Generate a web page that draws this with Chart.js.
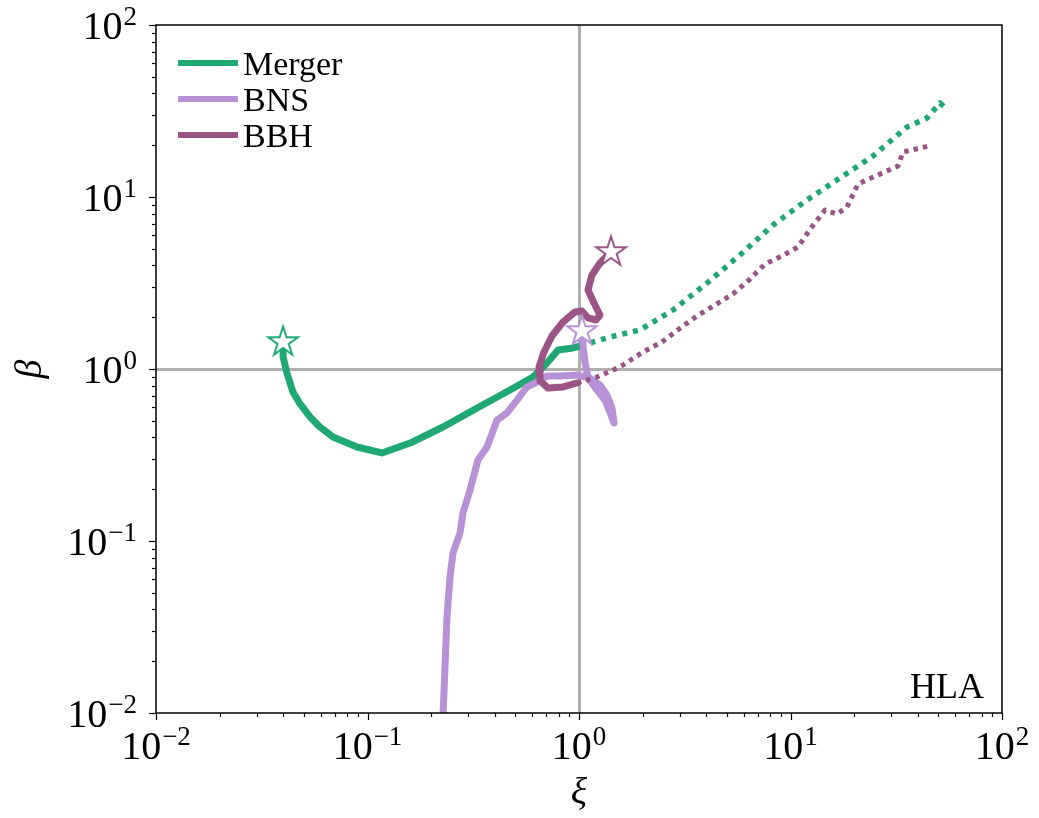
<!DOCTYPE html>
<html><head><meta charset="utf-8">
<script src="https://cdn.jsdelivr.net/npm/chart.js@4/dist/chart.umd.min.js"></script>
<style>html,body{margin:0;padding:0;background:#fff}canvas{display:block}</style>
</head><body>
<canvas id="c" width="1039" height="818"></canvas>
<script>
// ---- tick values / labels ----
const xiTicks = [0.01, 0.1, 1, 10, 100];
const betaTicks = [0.01, 0.1, 1, 10, 100];
const tickBase = '10';
const tickExponents = ['\u22122', '\u22121', '0', '1', '2'];
const seriesNames = ['Merger', 'BNS', 'BBH'];
const panelLabel = 'HLA';
const xTitle = 'ξ';
const yTitle = 'β';

// ---- Merger (solid part, star at first point) ----
const mergerXi   = [0.0399, 0.0399, 0.0416, 0.0444, 0.048, 0.0535, 0.0596, 0.0687, 0.0892, 0.117, 0.159, 0.2275, 0.330, 0.472, 0.606, 0.706, 0.796, 0.937, 1.01];
const mergerBeta = [1.435, 1.174, 0.948, 0.735, 0.626, 0.526, 0.460, 0.402, 0.352, 0.325, 0.371, 0.460, 0.593, 0.755, 0.898, 1.083, 1.290, 1.325, 1.36];
// Merger (dotted continuation)
const mergerExtXi   = [1.01, 1.402, 1.943, 2.783, 4.03, 5.77, 8.27, 11.97, 17.14, 24.55, 35.55, 44.2, 50.9, 55.6];
const mergerExtBeta = [1.36, 1.535, 1.686, 2.203, 3.162, 4.60, 6.88, 9.61, 12.90, 17.31, 25.53, 28.8, 35.2, 32.0];

// ---- BNS (solid, star at last point) ----
const bnsXi   = [0.2275, 0.2325, 0.2376, 0.2455, 0.2537, 0.2738, 0.2828, 0.3052, 0.333, 0.3673, 0.4096, 0.4566, 0.509, 0.5676, 0.633, 0.706, 0.813, 0.978, 1.127, 1.257, 1.356, 1.432, 1.464, 1.417, 1.327, 1.216, 1.103, 1.067, 1.044, 1.033];
const bnsBeta = [0.0095, 0.0185, 0.0361, 0.0618, 0.0852, 0.1113, 0.1455, 0.198, 0.2958, 0.352, 0.505, 0.555, 0.660, 0.786, 0.840, 0.911, 0.911, 0.923, 0.886, 0.807, 0.706, 0.593, 0.485, 0.540, 0.660, 0.755, 0.886, 1.098, 1.379, 1.663];

// ---- BBH (solid, star at first point) ----
const bbhXi   = [1.417, 1.257, 1.152, 1.103, 1.177, 1.257, 1.203, 1.103, 1.033, 0.957, 0.840, 0.745, 0.683, 0.647, 0.654, 0.714, 0.840, 0.978];
const bbhBeta = [4.79, 4.13, 3.52, 2.88, 2.42, 2.06, 1.927, 1.980, 2.174, 2.145, 1.876, 1.555, 1.256, 1.027, 0.852, 0.775, 0.786, 0.829];
// BBH (dotted continuation)
const bbhExtXi   = [0.978, 1.216, 1.563, 2.007, 2.469, 2.971, 3.614, 4.395, 5.35, 6.366, 7.575, 9.12, 10.85, 12.50, 14.56, 16.59, 18.50, 20.85, 25.93, 32.23, 34.04, 39.20, 45.18];
const bbhExtBeta = [0.829, 0.898, 1.027, 1.256, 1.435, 1.708, 2.033, 2.356, 2.73, 3.291, 4.078, 4.54, 5.12, 6.60, 8.40, 7.96, 8.75, 11.90, 13.43, 15.14, 18.26, 19.02, 19.79];

// ---- styles ----
const GREEN = '#1fa774';
const LAV = '#b892d6';
const MAUVE = '#9b5585';
const FONT = "'Liberation Serif','Times New Roman',serif";

const zip = (xs, ys) => xs.map((v, i) => ({x: v, y: ys[i]}));

function starCanvas(color) {
  const s = 40, c = document.createElement('canvas');
  c.width = s; c.height = s;
  const g = c.getContext('2d');
  const R = 15.5, r = R * 0.381966, cx = s / 2, cy = s / 2;
  g.beginPath();
  for (let i = 0; i < 10; i++) {
    const rad = i % 2 === 0 ? R : r;
    const a = -Math.PI / 2 + i * Math.PI / 5;
    const px = cx + rad * Math.cos(a), py = cy + rad * Math.sin(a);
    i === 0 ? g.moveTo(px, py) : g.lineTo(px, py);
  }
  g.closePath();
  g.fillStyle = '#fff'; g.fill();
  g.lineWidth = 2; g.strokeStyle = color; g.lineJoin = 'miter'; g.stroke();
  return c;
}

const solid = (label, data, color, order) => ({
  label, data, borderColor: color, backgroundColor: color, borderWidth: 7,
  showLine: true, pointRadius: 0, borderJoinStyle: 'round', borderCapStyle: 'round', order
});
const dotted = (label, data, color, order, w, dash) => ({
  label, data, borderColor: color, backgroundColor: color, borderWidth: w,
  showLine: true, pointRadius: 0, borderDash: dash, borderCapStyle: 'butt', borderJoinStyle: 'round', order
});
const star = (label, pt, color, order) => ({
  label, data: [pt], showLine: false, pointStyle: starCanvas(color), pointRadius: 16, order
});

const datasets = [
  solid(seriesNames[0], zip(mergerXi, mergerBeta), GREEN, 7),
  dotted(seriesNames[0] + ' ext', zip(mergerExtXi, mergerExtBeta), GREEN, 6, 5.5, [5, 6]),
  solid(seriesNames[1], zip(bnsXi, bnsBeta), LAV, 5),
  dotted(seriesNames[2] + ' ext', zip(bbhExtXi, bbhExtBeta), MAUVE, 4, 5, [4.5, 5]),
  solid(seriesNames[2], zip(bbhXi, bbhBeta), MAUVE, 3),
  star('s1', {x: mergerXi[0], y: mergerBeta[0]}, GREEN, 2),
  star('s3', {x: bbhXi[0], y: bbhBeta[0]}, MAUVE, 1),
  star('s2', {x: bnsXi[bnsXi.length - 1], y: bnsBeta[bnsBeta.length - 1]}, LAV, 0),
];

const legendColors = [GREEN, LAV, MAUVE];
const BASE_FS = 40, SUP_FS = 27, SUP_RAISE = 14;

function drawPow(ctx, exp, x, baseline, align) {
  ctx.font = BASE_FS + 'px ' + FONT;
  const wb = ctx.measureText(tickBase).width;
  ctx.font = SUP_FS + 'px ' + FONT;
  const ws = ctx.measureText(exp).width;
  const total = wb + ws + 1;
  let x0 = align === 'center' ? x - total / 2 : x - total;
  ctx.textAlign = 'left'; ctx.textBaseline = 'alphabetic';
  ctx.font = BASE_FS + 'px ' + FONT;
  ctx.fillText(tickBase, x0, baseline);
  ctx.font = SUP_FS + 'px ' + FONT;
  ctx.fillText(exp, x0 + wb + 1, baseline - SUP_RAISE);
}

const decorations = {
  id: 'decorations',
  afterDatasetsDraw(chart) {
    const {ctx, chartArea: a, scales: {x, y}} = chart;
    ctx.save();
    // minor / major ticks (outward)
    ctx.strokeStyle = '#000'; ctx.lineWidth = 1.2;
    for (let d = -2; d <= 2; d++) {
      for (let m = 1; m <= 9; m++) {
        const v = m * Math.pow(10, d);
        if (v > 100.0001) break;
        const len = m === 1 ? 7 : 4;
        const px = Math.round(x.getPixelForValue(v)) + 0.5;
        const py = Math.round(y.getPixelForValue(v)) + 0.5;
        ctx.beginPath(); ctx.moveTo(px, a.bottom); ctx.lineTo(px, a.bottom + len); ctx.stroke();
        ctx.beginPath(); ctx.moveTo(a.left, py); ctx.lineTo(a.left - len, py); ctx.stroke();
      }
    }
    // frame
    ctx.lineWidth = 1.5;
    ctx.strokeRect(a.left, a.top, a.right - a.left, a.bottom - a.top);
    // tick labels
    ctx.fillStyle = '#000';
    xiTicks.forEach((v, i) => drawPow(ctx, tickExponents[i], x.getPixelForValue(v), a.bottom + 46, 'center'));
    betaTicks.forEach((v, i) => drawPow(ctx, tickExponents[i], a.left - 19, y.getPixelForValue(v) + 13.5, 'right'));
    // axis titles
    ctx.font = 'italic 38px ' + FONT;
    ctx.textAlign = 'center'; ctx.textBaseline = 'middle';
    ctx.fillText(xTitle, (a.left + a.right) / 2, 794);
    ctx.save();
    ctx.translate(31, (a.top + a.bottom) / 2);
    ctx.rotate(-Math.PI / 2);
    ctx.fillText(yTitle, 0, 0);
    ctx.restore();
    // legend
    ctx.font = '34px ' + FONT;
    ctx.textAlign = 'left'; ctx.textBaseline = 'alphabetic';
    seriesNames.forEach((name, i) => {
      const cy = a.top + 38 + i * 36;
      ctx.strokeStyle = legendColors[i]; ctx.lineWidth = 6; ctx.lineCap = 'butt';
      ctx.beginPath(); ctx.moveTo(a.left + 22, cy); ctx.lineTo(a.left + 82, cy); ctx.stroke();
      ctx.fillText(name, a.left + 87, cy + 12);
    });
    // panel label
    ctx.font = '36px ' + FONT;
    ctx.textAlign = 'right';
    ctx.fillText(panelLabel, a.right - 18, a.bottom - 15);
    ctx.restore();
  }
};

const gridColor = c => (c.tick && c.tick.value === 1) ? '#b0b0b0' : 'rgba(0,0,0,0)';

new Chart(document.getElementById('c'), {
  type: 'scatter',
  data: {datasets},
  options: {
    responsive: false, animation: false, devicePixelRatio: 1,
    layout: {padding: {left: 0, top: 25, right: 37, bottom: 0}},
    plugins: {legend: {display: false}, tooltip: {enabled: false}},
    scales: {
      x: {
        type: 'logarithmic', min: 0.01, max: 100,
        afterBuildTicks: s => { s.ticks = xiTicks.map(v => ({value: v})); },
        afterFit: s => { s.height = 105; },
        grid: {color: gridColor, lineWidth: 3, drawTicks: false},
        border: {display: false},
        ticks: {display: false}
      },
      y: {
        type: 'logarithmic', min: 0.01, max: 100,
        afterBuildTicks: s => { s.ticks = betaTicks.map(v => ({value: v})); },
        afterFit: s => { s.width = 156; },
        grid: {color: gridColor, lineWidth: 3, drawTicks: false},
        border: {display: false},
        ticks: {display: false}
      }
    }
  },
  plugins: [decorations]
});
</script>
</body></html>
